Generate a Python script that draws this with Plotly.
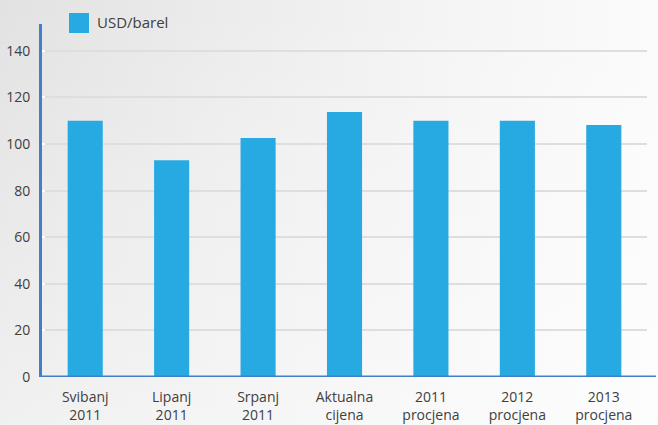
import plotly.graph_objects as go
import urllib.parse

categories = ["Svibanj<br>2011", "Lipanj<br>2011", "Srpanj<br>2011", "Aktualna<br>cijena",
              "2011<br>procjena", "2012<br>procjena", "2013<br>procjena"]
values = [110, 93, 102.6, 113.7, 110, 110, 108.2]
series_name = "USD/barel"
y_ticks = [0, 20, 40, 60, 80, 100, 120, 140]

BAR = "#27a9e1"
AXIS = "#3f81c9"
TXT = "#404040"
FONT = "Open Sans, Noto Sans, DejaVu Sans, sans-serif"

svg = ('<svg xmlns="http://www.w3.org/2000/svg" width="658" height="425" preserveAspectRatio="none">'
       '<defs><linearGradient id="g" x1="0" y1="0" x2="1" y2="0">'
       '<stop offset="0" stop-color="#e2e2e2"/><stop offset="0.35" stop-color="#ececec"/>'
       '<stop offset="0.7" stop-color="#f5f5f5"/><stop offset="1" stop-color="#fbfbfb"/>'
       '</linearGradient><linearGradient id="h" x1="0" y1="0" x2="0" y2="1">'
       '<stop offset="0" stop-color="#ffffff" stop-opacity="0"/><stop offset="1" stop-color="#ffffff" stop-opacity="0.5"/>'
       '</linearGradient></defs>'
       '<rect width="658" height="425" fill="url(#g)"/><rect width="658" height="425" fill="url(#h)"/></svg>')
bg_src = "data:image/svg+xml;charset=utf-8," + urllib.parse.quote(svg)

fig = go.Figure()
fig.add_trace(go.Bar(x=categories, y=values, name=series_name, marker_color=BAR,
                     marker_line_width=0, showlegend=False))

fig.update_layout(
    width=658, height=425,
    margin=dict(l=42, r=11, t=24, b=48),
    paper_bgcolor="#efefef", plot_bgcolor="rgba(0,0,0,0)",
    bargap=0.594,
    font=dict(family=FONT, size=14, color=TXT),
    images=[dict(source=bg_src, xref="paper", yref="paper", x=-42/605, y=1+24/353,
                 sizex=658/605, sizey=425/353, xanchor="left", yanchor="top",
                 sizing="stretch", layer="below")],
    xaxis=dict(showgrid=False, showline=False, zeroline=False, ticks="", automargin=False,
               tickfont=dict(size=14, color=TXT), ticklabelstandoff=10),
    yaxis=dict(range=[0, 151.5], tickvals=y_ticks, showgrid=True, gridcolor="#dedede",
               gridwidth=2, zeroline=False, showline=True, linecolor=AXIS, linewidth=3,
               ticks="inside", tickcolor="#ffffff", ticklen=3, tickwidth=2, automargin=False,
               tickfont=dict(size=14, color=TXT), ticklabelstandoff=6),
    shapes=[dict(type="line", xref="paper", yref="y", x0=-0.004, x1=1.015, y0=0, y1=0,
                 line=dict(color=AXIS, width=3)),
            dict(type="rect", xref="paper", yref="paper", x0=27/605, x1=47/605,
                 y0=1 + (24 - 33) / 353, y1=1 + (24 - 13) / 353,
                 fillcolor=BAR, line_width=0)],
    annotations=[dict(text=series_name, xref="paper", yref="paper", x=53/605,
                      y=1 + (24 - 22) / 353, xanchor="left", yanchor="middle",
                      showarrow=False, font=dict(size=15, color=TXT))],
)

fig.write_html("out.html")
